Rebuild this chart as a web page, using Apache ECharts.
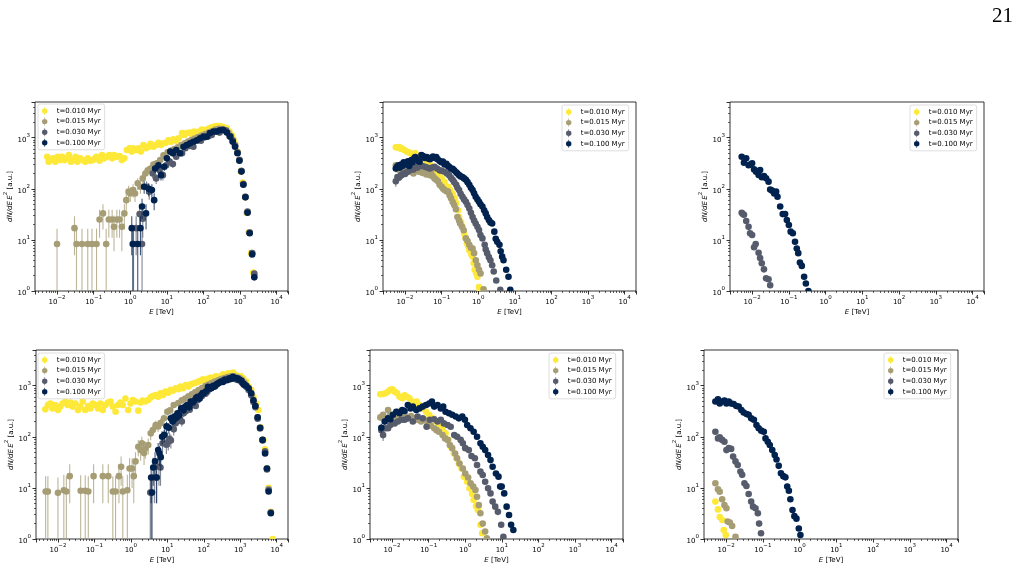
<!DOCTYPE html>
<html>
<head>
<meta charset="utf-8">
<script src="https://cdn.jsdelivr.net/npm/echarts@6/dist/echarts.min.js"></script>
<style>
html,body{margin:0;padding:0;background:#fff;}
#chart{width:1022px;height:578px;}
</style>
</head>
<body>
<div id="chart"></div>
<script>
// ---- labels / ticks ----
const T_LABELS = ['t=0.010 Myr', 't=0.015 Myr', 't=0.030 Myr', 't=0.100 Myr'];
const X_TITLE = 'E [TeV]';
const Y_TITLE = 'dN/dE E^2 [a.u.]';
const PAGE_NUMBER = '21';
const X_RANGE = [0.0025, 20400];
const Y_RANGE = [1, 5000];

// ---- data: [E (TeV), dN/dE E^2, error] ----
// Panel 1 (top-left)
const p1_t010 = [[0.0054,425],[0.0059,340],[0.0066,365],[0.0078,395],[0.009,340],[0.0104,425],[0.0118,365],[0.0137,425],[0.0159,365],[0.018,395],[0.021,460],[0.024,340],[0.027,365],[0.032,425],[0.036,340],[0.043,395],[0.051,365],[0.059,340],[0.069,395],[0.081,355],[0.096,365],[0.11,395],[0.12,425],[0.145,355],[0.17,460],[0.195,395],[0.23,425],[0.27,460],[0.32,395],[0.36,460],[0.43,425],[0.51,440],[0.59,365],[0.69,395],[0.81,575],[0.96,620],[1.1,535],[1.2,620],[1.45,575],[1.7,620],[1.95,535],[2.3,720],[2.7,620],[3.2,665],[3.6,760],[4.3,665],[5.0,720],[5.9,795],[6.9,720],[8.1,775],[9.4,795],[11,895],[13,835],[15,930],[18,870],[21,975],[26,1230],[30,1130],[35,1230],[42,1260],[48,1180],[56,1320],[66,1260],[78,1320],[90,1450],[105,1380],[124,1450],[145,1520],[168,1590],[196,1650],[230,1690],[275,1690],[316,1650],[365,1590],[435,1520],[510,1320],[590,1130],[660,930],[730,775],[850,535],[960,365],[1040,217],[1170,132],[1400,68],[1510,34],[1720,14],[2000,5.5],[2290,2.3]];
const p1_t015 = [[0.01,8.3,8.3],[0.030,17,12],[0.034,8.3,8.3],[0.048,8.3,8.3],[0.069,8.3,8.3],[0.09,8.3,8.3],[0.12,8.3,8.3],[0.145,25,14],[0.18,33,17],[0.22,8.3,8.3],[0.26,25,14],[0.32,25,14],[0.36,18,12],[0.43,25,14],[0.51,25,14],[0.59,18,12],[0.69,33,17],[0.78,60,22],[0.9,88,27],[1.0,81,26],[1.2,95,28],[1.35,81,26],[1.6,128,33],[1.9,110,30],[2.2,160,36],[2.6,200,41],[3.0,230,44],[3.6,250,46],[4.3,300,50],[5.3,315,51],[6.6,365,55],[8.1,455,61],[10.5,520,65],[13,560,68],[16,600,70],[20,650,73],[25,720],[31,780],[38,840],[47,900],[58,960],[72,1030],[90,1100],[112,1180],[140,1260],[175,1350],[215,1450],[265,1500],[330,1480],[400,1400],[480,1250],[560,1080],[640,900],[730,720],[850,520],[960,370],[1090,225],[1230,125],[1400,70],[1600,35],[1830,14],[2140,5.5],[2450,2.0]];
const p1_t030 = [[1.23,8.3,8.3],[1.45,17,12],[1.8,32,16],[2.1,8.3,8.3],[2.2,26,15],[2.8,110,30],[3.3,88,27],[4.1,200,41],[5.1,160,36],[6.3,230,44],[7.8,185,39],[9.6,290,49],[11.9,340,53],[14.6,305,50],[18,425,59],[26,495,64],[32,620,72],[42,690,76],[53,665,74],[66,870,85],[85,870],[105,1010],[137,1070],[168,1130],[220,1320],[275,1260],[335,1450],[415,1380],[510,1080],[630,870],[730,690],[850,510],[960,365],[1090,223],[1230,124],[1400,70],[1600,36],[1830,14],[2140,5.5],[2450,2.2]];
const p1_t100 = [[1.1,17,12],[1.17,8.3,8.3],[1.6,8.3,8.3],[1.9,17,12],[2.1,45,19],[2.4,110,30],[2.7,33,17],[3.2,100,29],[3.9,95,28],[4.5,60,22],[4.8,250,45],[5.9,290,48],[6.9,185,39],[8.5,270,47],[10,395,57],[12.4,535,66],[14.6,495,64],[18,575,69],[23,495,64],[28.5,665,74],[35,720,77],[43,775,80],[53,835,83],[66,895,86],[81,975,90],[100,1050],[124,1050],[150,1230],[190,1320],[230,1320],[280,1400],[350,1400],[435,1260],[540,1050],[630,835],[730,665],[850,495],[960,355],[1090,217],[1230,120],[1400,68],[1600,34],[1830,13.5],[2140,5.2],[2450,1.85]];

// Panel 2 (top-middle)
const p2_t010 = [[0.0056,650],[0.0063,640],[0.0069,660],[0.0076,610],[0.0081,620],[0.0096,575],[0.011,535],[0.0125,520],[0.0136,500],[0.016,470],[0.019,500],[0.022,440],[0.026,400],[0.03,380],[0.035,350],[0.041,330],[0.048,300],[0.056,260],[0.064,215],[0.075,200],[0.088,175],[0.1,160],[0.12,135],[0.15,110],[0.17,95],[0.2,80],[0.23,65],[0.25,52],[0.28,38],[0.3,28],[0.34,22],[0.37,18],[0.41,13.5],[0.45,11],[0.49,8.6],[0.53,7.5],[0.57,6.3],[0.65,5.2],[0.7,4.7],[0.75,3.5],[0.8,2.6],[0.88,2.2],[0.95,1.9],[1.05,1.2],[1.1,1.02]];
const p2_t015 = [[0.0056,290,35],[0.0062,260],[0.0068,235],[0.0074,280],[0.0082,250],[0.009,230],[0.0099,240],[0.011,210],[0.012,260],[0.0135,230],[0.015,250],[0.017,200],[0.019,225],[0.021,270],[0.024,215],[0.027,240],[0.03,205],[0.034,220],[0.038,190],[0.043,200],[0.048,185],[0.052,200],[0.058,175],[0.064,160],[0.071,150],[0.079,140],[0.088,120],[0.1,110],[0.11,100],[0.12,95],[0.135,90],[0.15,88],[0.165,75],[0.18,65],[0.2,55],[0.22,48],[0.245,40],[0.27,28],[0.3,24],[0.32,21],[0.36,18],[0.4,15.5],[0.46,10.7],[0.51,9.5],[0.57,8],[0.63,7],[0.7,6.8],[0.77,5.5],[0.86,4.0],[0.95,3.2],[1.05,2.6],[1.16,2.2],[1.4,1.08]];
const p2_t030 = [[0.0056,140,30],[0.0062,170,25],[0.0068,165],[0.0075,180],[0.008,185],[0.009,200],[0.01,195],[0.011,210],[0.012,215],[0.0135,230],[0.015,250],[0.017,240],[0.019,270],[0.022,260],[0.025,290],[0.03,280],[0.035,270],[0.04,260],[0.047,250],[0.055,260],[0.064,270],[0.075,250],[0.088,230],[0.1,225],[0.12,215],[0.14,200],[0.16,185],[0.18,165],[0.2,150],[0.22,135],[0.25,120],[0.27,105],[0.3,95],[0.33,80],[0.37,70],[0.41,62],[0.46,56],[0.51,48],[0.57,41],[0.63,34],[0.7,28],[0.77,24],[0.85,21],[0.95,18],[1.05,15.6],[1.15,12.5],[1.3,10.7],[1.5,8],[1.6,6.5],[1.75,5.5],[1.95,4.6],[2.15,4.0],[2.4,3.2],[2.65,2.4],[3.1,1.6],[4.0,1.05]];
const p2_t100 = [[0.0056,250,40],[0.006,270],[0.0066,290],[0.0072,260],[0.0078,300],[0.0085,280],[0.0092,330],[0.01,315],[0.011,300],[0.012,345],[0.013,280],[0.014,350],[0.015,365],[0.016,330],[0.018,400],[0.019,420],[0.021,380],[0.023,350],[0.025,340],[0.028,460],[0.031,440],[0.035,400],[0.039,420],[0.043,390],[0.048,380],[0.053,410],[0.058,430],[0.064,400],[0.071,420],[0.078,380],[0.088,350],[0.098,330],[0.108,340],[0.12,300],[0.135,310],[0.15,280],[0.16,270],[0.18,250],[0.2,245],[0.22,230],[0.25,210],[0.27,200],[0.3,185],[0.33,175],[0.37,170],[0.41,160],[0.46,150],[0.51,135],[0.57,120],[0.63,105],[0.7,95],[0.77,82],[0.85,70],[0.95,62],[1.05,56],[1.15,50],[1.3,45],[1.45,38],[1.6,33],[1.75,28],[1.95,24.5],[2.15,22],[2.4,21],[2.75,14.5],[3.0,10.5],[3.3,9.2],[3.8,8],[4.1,6],[4.5,4.7],[4.9,4.0],[5.8,2.6],[6.7,1.9],[7.5,1.05]];

// Panel 3 (top-right)
const p3_t010 = [];
const p3_t015 = [];
const p3_t030 = [[0.0052,34],[0.0056,32],[0.006,31],[0.0069,23.5],[0.008,18],[0.0088,13.5],[0.01,12.5],[0.0113,7.2],[0.0125,8.3],[0.015,5.6],[0.0165,4.4],[0.0183,3.5],[0.021,2.65],[0.024,1.77],[0.028,1.7],[0.031,1.3]];
const p3_t100 = [[0.0052,425],[0.006,325],[0.0069,395],[0.008,290],[0.0088,300],[0.01,315],[0.0113,240],[0.0128,216],[0.015,186],[0.0165,233],[0.0183,168],[0.021,178],[0.024,161],[0.028,138],[0.031,97],[0.035,92],[0.04,81],[0.045,88],[0.049,70],[0.058,45],[0.068,32],[0.079,32],[0.088,24.5],[0.1,19.6],[0.112,14.5],[0.128,13.5],[0.147,9.2],[0.164,6.8],[0.18,5.5],[0.2,3.6],[0.225,3.1],[0.26,1.9],[0.29,1.4],[0.34,1.0]];

// Panel 4 (bottom-left)
const p4_t010 = [[0.0045,345],[0.0053,420],[0.0062,450],[0.0071,360],[0.0084,420],[0.01,335],[0.0116,390],[0.0134,450],[0.016,490],[0.0188,420],[0.022,470],[0.0253,390],[0.03,450],[0.0355,335],[0.041,390],[0.048,490],[0.056,335],[0.067,400],[0.078,360],[0.09,450],[0.106,420],[0.126,360],[0.146,450],[0.169,335],[0.2,420],[0.237,470],[0.276,490],[0.32,390],[0.38,310],[0.445,420],[0.52,470],[0.6,420],[0.71,560],[0.84,335],[0.98,450],[1.13,525],[1.34,490],[1.6,325],[1.85,470],[2.1,510],[2.5,490],[3.0,525],[3.5,590],[4.0,630],[4.8,655],[5.6,610],[6.5,710],[7.6,655],[8.9,765],[10.6,730],[12.4,830],[14.2,800],[17,890],[20,850],[23,960],[27,890],[32,1030],[38,960],[44,1070],[51,1100],[61,1140],[71,1200],[82,1250],[95,1330],[115,1200],[134,1380],[157,1450],[180,1380],[215,1530],[250,1450],[290,1530],[340,1680],[400,1610],[470,1740],[560,1530],[640,1800],[760,1610],[900,1500],[1050,1530],[1220,1380],[1450,1200],[1700,960],[2000,830],[2300,610],[2750,450],[3150,335],[3700,153],[4300,87],[4800,57],[5400,24],[6000,10],[6900,3.4],[7800,1.0]];
const p4_t015 = [[0.0046,8.5,8.5],[0.0053,8.5,8.5],[0.01,8.0,8.0],[0.0145,9.0,9.0],[0.017,8.5,8.5],[0.021,17,12],[0.042,8.8,8.8],[0.056,8.8,8.8],[0.068,8.5,8.5],[0.095,17,12],[0.17,17,12],[0.24,17,12],[0.32,8.5,8.5],[0.38,8.5,8.5],[0.47,17,12],[0.54,26,15],[0.6,8.5,8.5],[0.8,9,9],[0.92,24,14],[1.08,24,14],[1.2,17,12],[1.34,33,17],[1.6,64,23],[1.85,55,21],[2.0,75,25],[2.3,48,20],[2.5,59,22],[3.0,69,24],[3.5,117,31],[4.0,136,34],[4.8,170,38],[5.6,160,36],[6.5,185,39],[8.1,230,44],[10,310,51],[12,330,52],[15,420,59],[20,460,62],[25,520,66],[31,560],[38,620],[47,680],[58,740],[72,820],[90,900],[110,980],[135,1050],[165,1130],[200,1200],[250,1280],[300,1350],[370,1420],[450,1480],[550,1520],[670,1520],[800,1480],[950,1420],[1100,1300],[1300,1150],[1500,1000],[1750,850],[2000,700],[2300,520],[2600,400],[3000,240],[3500,150],[4100,87],[4800,50],[5400,24],[6000,9.5],[6900,3.3]];
const p4_t030 = [[3.4,8.1,8.1],[3.6,8.1,8.1],[4.4,16,11],[5.0,16,11],[5.9,26,15],[6.5,25,14],[7.4,75,25],[8.5,110,30],[9.4,70,24],[10.6,80,26],[11.5,90,27],[12.5,85,26],[13.5,210,42],[15,140,34],[17,185,39],[19.5,250,46],[22,225,43],[25,200,41],[28,290,49],[32,315],[36,350],[41,340],[47,420],[53,450],[60,400],[68,520],[77,560],[88,620],[100,680],[112,700],[125,760],[140,850],[160,900],[180,940],[205,1000],[235,1080],[270,1150],[310,1200],[360,1250],[410,1350],[470,1300],[540,1380],[620,1400],[720,1350],[830,1300],[950,1280],[1100,1150],[1250,1050],[1450,950],[1700,820],[2000,650],[2300,480],[2600,380],[3000,225],[3500,145],[4100,85],[4800,52],[5400,23],[6000,9.0],[6900,3.3]];
const p4_t100 = [[3.6,16,11],[3.8,8.1,8.1],[4.1,25,14],[4.6,33,17],[5.1,16,11],[5.6,55,21],[6.1,47,20],[6.6,40,18],[7.2,100,29],[8.2,108,30],[9.5,160,36],[11,150,35],[12.4,230,44],[14,200,41],[15.5,250,46],[17,230,44],[19,290,49],[21,260,46],[24,360,55],[28,330,52],[31,390,57],[35,420,59],[40,380,56],[44,490,64],[50,470,62],[55,520,66],[62,580],[68,610],[76,560],[85,660],[93,720],[100,710],[115,780],[130,950],[145,880],[160,890],[180,1000],[200,960],[220,1050],[240,1100],[270,1150],[300,1200],[335,1180],[370,1300],[420,1280],[500,1400],[560,1350],[630,1500],[700,1420],[770,1400],[860,1380],[950,1300],[1080,1250],[1200,1100],[1300,1050],[1450,1000],[1700,890],[2000,710],[2300,520],[2600,400],[3000,240],[3500,150],[4100,87],[4800,47],[5400,24],[6000,8.5],[6900,3.2]];

// Panel 5 (bottom-middle)
const p5_t010 = [[0.0048,680],[0.0057,690],[0.0067,710],[0.0078,770],[0.009,830],[0.0102,850],[0.0118,770],[0.0137,710],[0.016,610],[0.019,570],[0.022,650],[0.0254,610],[0.03,570],[0.035,490],[0.041,465],[0.047,490],[0.056,420],[0.069,360],[0.085,310],[0.104,270],[0.128,230],[0.158,200],[0.19,170],[0.24,147],[0.29,117],[0.35,87],[0.4,64],[0.49,47],[0.57,38],[0.67,30],[0.79,24],[0.92,16.5],[1.13,13.2],[1.31,9.8],[1.54,7.6],[1.7,5.8],[1.97,4.4],[2.2,3.7],[2.6,1.9],[2.9,1.3]];
const p5_t015 = [[0.0048,240,35],[0.0057,270],[0.0067,230],[0.0078,335],[0.009,270],[0.0106,250],[0.0125,230],[0.0145,310],[0.018,250],[0.022,270],[0.027,230],[0.033,255],[0.041,230],[0.05,215],[0.062,200],[0.076,215],[0.094,185],[0.115,165],[0.142,147],[0.164,135],[0.19,126],[0.24,108],[0.28,93],[0.33,87],[0.38,69],[0.44,60],[0.53,47],[0.6,38],[0.7,30],[0.86,24],[1.0,19.2],[1.2,16],[1.4,12.3],[1.65,10.6],[1.9,9.1],[2.1,6.7],[2.35,4.6],[2.6,3.2],[3.0,2.0],[3.5,1.4],[3.9,1.03]];
const p5_t030 = [[0.0051,135,30],[0.0057,108,25],[0.0066,147],[0.0078,147],[0.009,170],[0.0118,183],[0.0145,200],[0.018,215],[0.022,215],[0.027,230],[0.037,200],[0.05,250],[0.069,230],[0.088,157],[0.108,215],[0.142,220],[0.175,200],[0.215,215],[0.26,183],[0.33,170],[0.4,157],[0.5,108],[0.6,100],[0.75,87],[0.86,75],[1.0,60],[1.25,55],[1.48,42],[1.83,38],[2.1,28],[2.6,20.8],[3.0,17.9],[3.5,13.2],[4.2,9.8],[4.9,7.8],[5.6,5.4],[6.6,4.3],[7.8,3.4],[9.6,1.9],[11,1.1]];
const p5_t100 = [[0.0051,150,30],[0.0063,200,30],[0.0078,230],[0.009,220],[0.0106,270],[0.0131,310],[0.016,290],[0.019,335],[0.022,320],[0.027,420],[0.032,360],[0.037,390],[0.046,335],[0.056,360],[0.069,390],[0.085,420],[0.104,450],[0.123,490],[0.142,390],[0.175,420],[0.215,360],[0.25,390],[0.29,310],[0.36,290],[0.44,270],[0.55,250],[0.67,230],[0.83,250],[0.98,215],[1.13,170],[1.39,147],[1.7,126],[2.1,100],[2.6,75],[3.0,64],[3.5,55],[4.2,44],[4.9,35],[5.6,26],[6.9,19.2],[8.1,16.6],[9.0,10.6],[9.9,10.6],[11.6,7.8],[13.5,4.3],[15.7,2.95],[17.9,1.9],[20.6,1.5]];

// Panel 6 (bottom-right)
const p6_t010 = [[0.0051,5.4],[0.006,3.8],[0.0067,2.7],[0.0078,2.35],[0.0086,1.5],[0.0098,1.2]];
const p6_t015 = [[0.0051,12.3],[0.006,9.4],[0.0067,8.4],[0.0078,6.0],[0.009,4.6],[0.0102,4.0],[0.011,2.2],[0.0126,2.1],[0.0146,1.8],[0.018,1.1]];
const p6_t030 = [[0.0051,126],[0.006,93],[0.0067,98],[0.0078,87],[0.009,80],[0.0102,55],[0.0118,60],[0.0137,58],[0.0155,41],[0.018,33],[0.0207,28],[0.0245,21],[0.0273,18],[0.0315,12.3],[0.0357,10.9],[0.041,7.6],[0.048,5.4],[0.054,4.3],[0.063,4.0],[0.073,3.2],[0.079,2.0],[0.089,1.3]];
const p6_t100 = [[0.0051,490],[0.006,540],[0.0067,450],[0.0078,490],[0.009,510],[0.0102,450],[0.0118,490],[0.0137,450],[0.016,440],[0.019,400],[0.022,390],[0.026,335],[0.03,300],[0.036,280],[0.041,270],[0.048,230],[0.057,215],[0.067,170],[0.077,147],[0.09,132],[0.106,126],[0.118,93],[0.136,80],[0.154,69],[0.18,55],[0.21,44],[0.235,36],[0.27,27],[0.31,19.3],[0.36,17],[0.41,16.1],[0.46,10.6],[0.51,8.8],[0.56,6.0],[0.64,3.7],[0.72,2.8],[0.82,2.5],[0.95,1.6],[1.05,1.2]];

const PANELS = [
  [p1_t010, p1_t015, p1_t030, p1_t100],
  [p2_t010, p2_t015, p2_t030, p2_t100],
  [p3_t010, p3_t015, p3_t030, p3_t100],
  [p4_t010, p4_t015, p4_t030, p4_t100],
  [p5_t010, p5_t015, p5_t030, p5_t100],
  [p6_t010, p6_t015, p6_t030, p6_t100]
];

// ---- layout / style ----
const COLORS = ['#fee838', '#a69d75', '#575c6d', '#00224e'];
const GRIDS = [
  {left: 35, top: 102, width: 253, height: 189},
  {left: 383, top: 102, width: 253, height: 189},
  {left: 730, top: 102, width: 254, height: 189},
  {left: 36, top: 350, width: 252, height: 189},
  {left: 370, top: 350, width: 253, height: 189},
  {left: 704, top: 350, width: 254, height: 189}
];
const LEGEND_POS = [
  {left: 38, top: 104},
  {left: 562, top: 105},
  {left: 910, top: 105},
  {left: 38, top: 353},
  {left: 549, top: 353},
  {left: 884, top: 353}
];
const FONT = 'DejaVu Sans';
const ICON = 'path://M4.6,0 L5.4,0 L5.4,10 L4.6,10 Z M5,1.6 A3.4,3.4 0 1 1 4.99,1.6 Z';

function powLabel(v) {
  const e = Math.log10(v);
  const r = Math.round(e);
  if (Math.abs(e - r) > 1e-6) return '';
  return '{b|10}{s|' + (r < 0 ? '\u2212' + (-r) : String(r)) + '}';
}
const tickRich = {
  b: {fontSize: 7, fontFamily: FONT, color: '#000', lineHeight: 11, verticalAlign: 'bottom'},
  s: {fontSize: 5.5, fontFamily: FONT, color: '#000', lineHeight: 7, verticalAlign: 'top'}
};
const nameRich = {
  i: {fontSize: 7, fontFamily: FONT, fontStyle: 'italic', color: '#000', lineHeight: 11, verticalAlign: 'bottom'},
  s: {fontSize: 5.5, fontFamily: FONT, color: '#000', lineHeight: 7, verticalAlign: 'top'},
  n: {fontSize: 7, fontFamily: FONT, color: '#000', lineHeight: 11, verticalAlign: 'bottom'}
};

function makeRender(color) {
  return function (params, api) {
    const E = api.value(0), y = api.value(1), err = api.value(2) || 0;
    const c = api.coord([E, y]);
    const children = [];
    if (err > 0) {
      const top = api.coord([E, y + err]);
      const bot = api.coord([E, Math.max(y - err, 0.2)]);
      children.push({
        type: 'line',
        shape: {x1: c[0], y1: bot[1], x2: c[0], y2: top[1]},
        style: {stroke: color, lineWidth: 1.1, opacity: 0.75}
      });
    }
    children.push({type: 'circle', shape: {cx: c[0], cy: c[1], r: 3.3}, style: {fill: color}});
    return {type: 'group', children: children};
  };
}

const grid = [], xAxis = [], yAxis = [], series = [], legend = [];
GRIDS.forEach(function (g, gi) {
  grid.push(Object.assign({show: true, borderColor: '#000', borderWidth: 0.8, backgroundColor: '#fff', containLabel: false}, g));
  xAxis.push({
    type: 'log', logBase: 10, gridIndex: gi, min: X_RANGE[0], max: X_RANGE[1],
    axisLine: {show: false},
    axisTick: {show: true, length: 3.5, lineStyle: {color: '#000', width: 0.8}},
    minorTick: {show: true, splitNumber: 9, length: 2, lineStyle: {color: '#000', width: 0.6}},
    splitLine: {show: false},
    axisLabel: {formatter: powLabel, rich: tickRich, margin: 4, color: '#000'},
    name: '{i|E}{n| [TeV]}', nameLocation: 'middle', nameGap: 14,
    nameTextStyle: {rich: nameRich}
  });
  yAxis.push({
    type: 'log', logBase: 10, gridIndex: gi, min: Y_RANGE[0], max: Y_RANGE[1],
    axisLine: {show: false},
    axisTick: {show: true, length: 3.5, lineStyle: {color: '#000', width: 0.8}},
    minorTick: {show: true, splitNumber: 9, length: 2, lineStyle: {color: '#000', width: 0.6}},
    splitLine: {show: false},
    axisLabel: {formatter: powLabel, rich: tickRich, margin: 5, color: '#000'},
    name: '{i|dN/dE\u2009E}{s|2}{n| [a.u.]}', nameLocation: 'middle', nameGap: 20,
    nameTextStyle: {rich: nameRich}
  });
  PANELS[gi].forEach(function (data, si) {
    series.push({
      type: 'custom', name: T_LABELS[si], coordinateSystem: 'cartesian2d',
      xAxisIndex: gi, yAxisIndex: gi, clip: true, z: 2 + si,
      itemStyle: {color: COLORS[si]},
      dimensions: ['E', 'y', 'err'], encode: {x: 0, y: 1},
      data: data.map(function (d) { return [d[0], d[1], d.length > 2 ? d[2] : 0]; }),
      renderItem: makeRender(COLORS[si])
    });
  });
  legend.push(Object.assign({
    orient: 'vertical', selectedMode: false,
    data: T_LABELS.map(function (n) { return {name: n, icon: ICON}; }),
    itemWidth: 14, itemHeight: 8, itemGap: 2.6, padding: [3, 4, 3, 4],
    borderColor: '#d6d6d6', borderWidth: 0.8, borderRadius: 2,
    backgroundColor: 'rgba(255,255,255,0.8)',
    textStyle: {fontSize: 7, fontFamily: FONT, color: '#000', lineHeight: 8}
  }, LEGEND_POS[gi]));
});

const chart = echarts.init(document.getElementById('chart'), null, {renderer: 'canvas'});
chart.setOption({
  animation: false,
  backgroundColor: '#fff',
  grid: grid, xAxis: xAxis, yAxis: yAxis, legend: legend, series: series,
  graphic: [{
    type: 'text', left: 992, top: 6,
    style: {text: PAGE_NUMBER, fontSize: 21, fontFamily: 'Liberation Serif', fill: '#000'}
  }]
});
</script>
</body>
</html>
